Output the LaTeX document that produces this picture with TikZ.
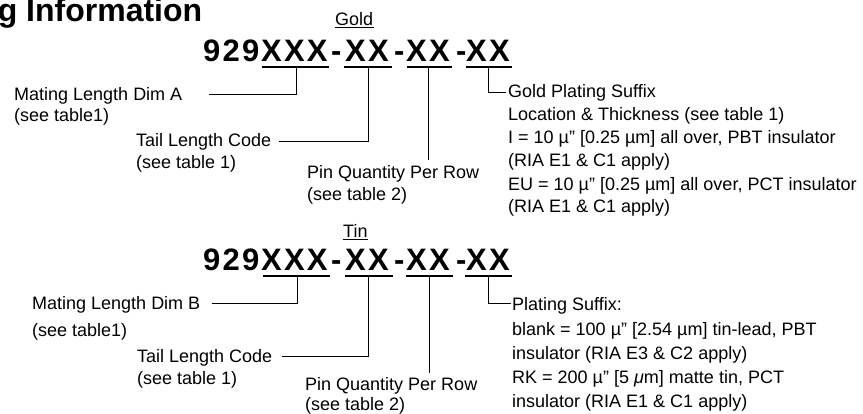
\documentclass[tikz,border=0pt]{standalone}
\usepackage{fontspec}
\setmainfont{Liberation Sans}
\newfontfamily\pnfont[LetterSpace=7]{Liberation Sans}
\begin{document}
\begin{tikzpicture}[x=1pt,y=-1pt,
  lbl/.style={inner sep=0pt, anchor=base west, font=\fontsize{18}{23}\selectfont},
  pn/.style={inner sep=0pt, anchor=base west, font=\pnfont\bfseries\fontsize{31}{33}\selectfont},
  ttl/.style={inner sep=0pt, anchor=base west, font=\bfseries\fontsize{32}{34}\selectfont},
  conn/.style={line width=1pt, line cap=rect},
  uline/.style={line width=1.4pt},
  thinu/.style={line width=0.9pt}]
\useasboundingbox (0,0) rectangle (863,413);
\clip (0,0) rectangle (863,413);

% title
\node[ttl] (title) at (-2.4,21) {g Information};

% ===== Gold =====
\node[lbl] (gold) at (335,25) {Gold};
\draw[thinu] (gold.base west)++(0,2) -- ++(39,0);

\node[pn] (a929) at (203,61) {929};
\node[pn] (ax1) at (261,61) {XXX};
\node[pn] (ad1) at (331,61) {-};
\node[pn] (ax2) at (345,61) {XX};
\node[pn] (ad2) at (394,61) {-};
\node[pn] (ax3) at (406,61) {XX};
\node[pn] (ad3) at (456,61) {-};
\node[pn] (ax4) at (466,61) {XX};

\coordinate (au1) at (296,67);
\coordinate (au2) at (368,67);
\coordinate (au3) at (428,67);
\coordinate (au4) at (488,67);
\draw[uline] (262,67) -- (329,67);
\draw[uline] (344,67) -- (392,67);
\draw[uline] (407,67) -- (452,67);
\draw[uline] (466,67) -- (512,67);

\node[lbl] (matA) at (14,100) {Mating Length Dim A};
\node[lbl] (matAs) at (14,121) {(see table1)};
\node[lbl] (tailA) at (136,146) {Tail Length Code};
\node[lbl] (tailAs) at (136,168) {(see table 1)};
\node[lbl] (pinA) at (307,178) {Pin Quantity Per Row};
\node[lbl] (pinAs) at (307,200) {(see table 2)};
\node[lbl] (gsA1) at (508,97) {Gold Plating Suffix};
\node[lbl] (gsA2) at (508,120) {Location \& Thickness (see table 1)};
\node[lbl] (gsA3) at (508,143) {I = 10 µ” [0.25 µm] all over, PBT insulator};
\node[lbl] (gsA4) at (508,166) {(RIA E1 \& C1 apply)};
\node[lbl] (gsA5) at (508,190) {EU = 10 µ” [0.25 µm] all over, PCT insulator};
\node[lbl] (gsA6) at (508,212) {(RIA E1 \& C1 apply)};

\coordinate (amE) at (209,94);
\coordinate (atE) at (279,141);
\coordinate (apE) at (428,159);
\coordinate (agE) at (505,92);
\draw[conn] (au1) |- (amE);
\draw[conn] (au2) |- (atE);
\draw[conn] (au3) -- (apE);
\draw[conn] (au4) |- (agE);

% ===== Tin =====
\node[lbl] (tin) at (343,237) {Tin};
\draw[thinu] (tin.base west)++(0,2) -- ++(25,0);

\node[pn] (b929) at (203,270) {929};
\node[pn] (bx1) at (261,270) {XXX};
\node[pn] (bd1) at (331,270) {-};
\node[pn] (bx2) at (345,270) {XX};
\node[pn] (bd2) at (394,270) {-};
\node[pn] (bx3) at (406,270) {XX};
\node[pn] (bd3) at (456,270) {-};
\node[pn] (bx4) at (466,270) {XX};

\coordinate (bu1) at (297,276);
\coordinate (bu2) at (368,276);
\coordinate (bu3) at (429,276);
\coordinate (bu4) at (488,276);
\draw[uline] (263,276) -- (330,276);
\draw[uline] (345,276) -- (393,276);
\draw[uline] (406,276) -- (453,276);
\draw[uline] (465,276) -- (512,276);

\node[lbl] (matB) at (32,309) {Mating Length Dim B};
\node[lbl] (matBs) at (32,336) {(see table1)};
\node[lbl] (tailB) at (137,362) {Tail Length Code};
\node[lbl] (tailBs) at (137,384) {(see table 1)};
\node[lbl] (pinB) at (305,390) {Pin Quantity Per Row};
\node[lbl] (pinBs) at (305,410) {(see table 2)};
\node[lbl] (tsB1) at (512,310) {Plating Suffix:};
\node[lbl] (tsB2) at (512,335) {blank = 100 µ” [2.54 µm] tin-lead, PBT};
\node[lbl] (tsB3) at (512,359) {insulator (RIA E3 \& C2 apply)};
\node[lbl] (tsB4) at (512,383) {RK = 200 µ” [5 {\itshape μ}m] matte tin, PCT};
\node[lbl] (tsB5) at (512,407) {insulator (RIA E1 \& C1 apply)};

\coordinate (bmE) at (212,303);
\coordinate (btE) at (282,356);
\coordinate (bpE) at (429,372);
\coordinate (bgE) at (510,303);
\draw[conn] (bu1) |- (bmE);
\draw[conn] (bu2) |- (btE);
\draw[conn] (bu3) -- (bpE);
\draw[conn] (bu4) |- (bgE);
\end{tikzpicture}
\end{document}
